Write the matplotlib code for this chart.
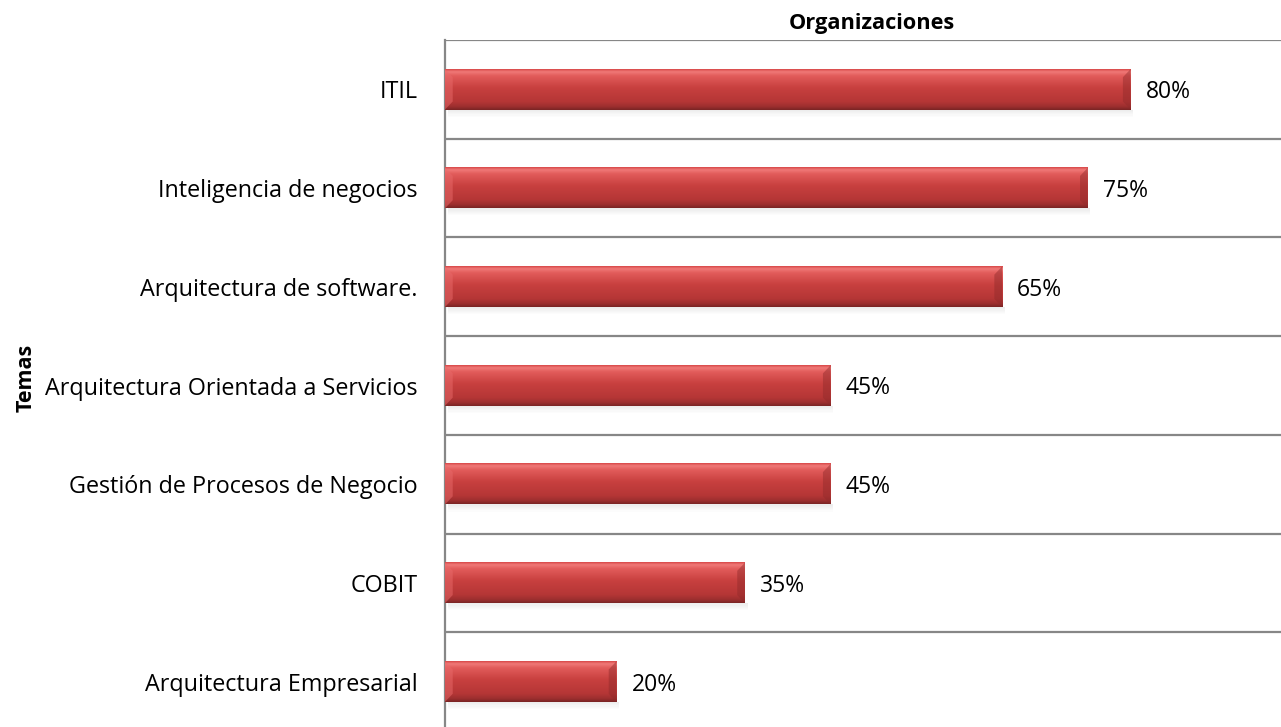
import matplotlib
matplotlib.use("Agg")
import matplotlib.pyplot as plt
import numpy as np
from matplotlib.colors import LinearSegmentedColormap
from matplotlib.patches import Rectangle, Polygon

categories = ["Arquitectura Empresarial", "COBIT", "Gestión de Procesos de Negocio",
              "Arquitectura Orientada a Servicios", "Arquitectura de software.",
              "Inteligencia de negocios", "ITIL"]
values = [20, 35, 45, 45, 65, 75, 80]
labels = ["20%", "35%", "45%", "45%", "65%", "75%", "80%"]
title = "Organizaciones"
ylabel = "Temas"

plt.rcParams['font.family'] = ['Open Sans', 'DejaVu Sans']

W, H = 1281, 727
fig = plt.figure(figsize=(W/100, H/100), dpi=100)
ax_left, ax_right = 445, 445 + 857
ax_top, ax_bot = 40, 731
ax = fig.add_axes([ax_left/W, (H-ax_bot)/H, (ax_right-ax_left)/W, (ax_bot-ax_top)/H])
ax.set_xlim(0, 100)
ax.set_ylim(-0.5, len(categories)-0.5)

grid_c = "#878787"
for i in range(len(categories)):
    ax.axhline(i + 0.5, color=grid_c, lw=1.6, zorder=1)
for s in ["top", "right", "bottom"]:
    ax.spines[s].set_visible(False)
ax.spines["left"].set_color(grid_c)
ax.spines["left"].set_linewidth(1.6)

cmap = LinearSegmentedColormap.from_list("bar", [
    (0.0, "#d94a4a"), (0.06, "#f07a78"), (0.16, "#e25c5b"),
    (0.45, "#c8403f"), (0.8, "#b53636"), (0.93, "#9a2e2e"), (1.0, "#7a2424")])
grad = np.linspace(0, 1, 100).reshape(-1, 1)

bh = 0.41
for i, v in enumerate(values):
    y0 = i - bh/2
    # shadow
    for k in range(6):
        ax.add_patch(Rectangle((0.3, y0 - 0.012*(k+1)), v, 0.012, color="#000000",
                               alpha=0.07*(1-k/6), lw=0, zorder=2))
    ax.imshow(grad, cmap=cmap, extent=(0, v, y0, y0 + bh), aspect="auto",
              zorder=3, interpolation="bilinear")
    # bevel ends
    dx = 0.9
    dy = bh * 0.2
    ax.add_patch(Polygon([(v, y0), (v, y0+bh), (v-dx, y0+bh-dy), (v-dx, y0+dy)],
                         closed=True, color="#8f2a2a", alpha=0.45, lw=0, zorder=4))
    ax.add_patch(Polygon([(0, y0), (0, y0+bh), (dx, y0+bh-dy), (dx, y0+dy)],
                         closed=True, color="#e86a6a", alpha=0.5, lw=0, zorder=4))
    ax.text(v + 1.75, i - 0.03, labels[i], va="center", ha="left", fontsize=16.5, color="#000000")

ax.set_yticks(range(len(categories)))
ax.set_yticklabels(categories, fontsize=16.8)
ax.tick_params(axis="y", length=0, pad=19.5)
ax.set_xticks([])

fig.text(872/W, (H-23)/H, title, ha="center", va="center", fontsize=15.7, fontweight="bold")
fig.text(26/W, (H-378)/H, ylabel, ha="center", va="center", rotation=90, fontsize=15.5, fontweight="bold")

fig.savefig("out.png", dpi=100)
